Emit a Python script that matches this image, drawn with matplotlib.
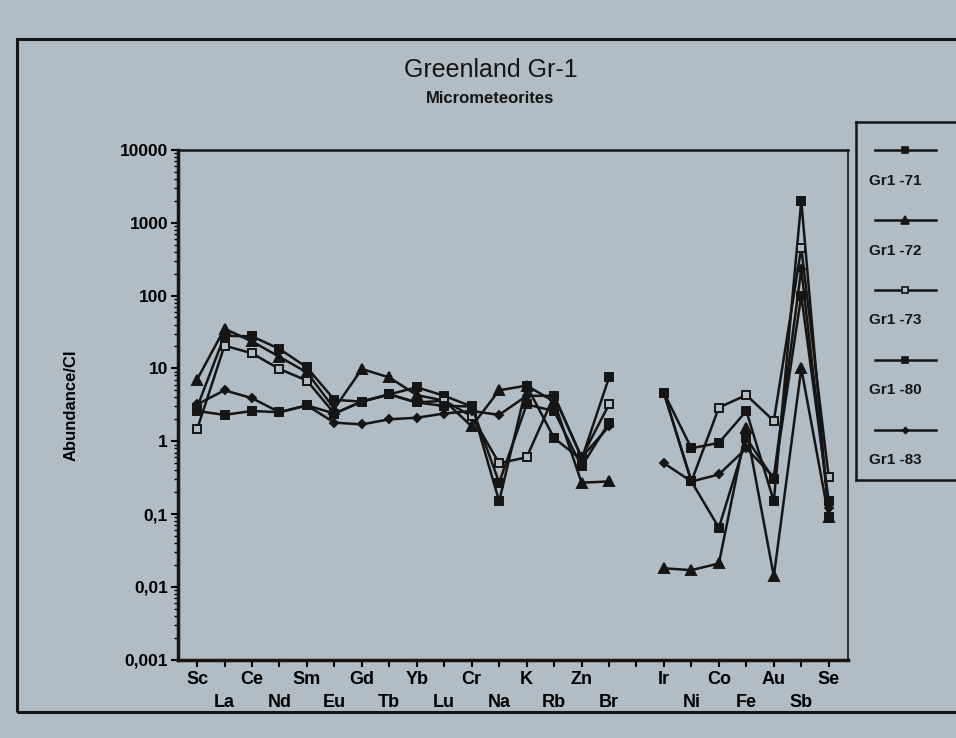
"""Greenland Gr-1 micrometeorites: CI-normalised element abundances."""

import matplotlib
matplotlib.use("Agg")
import matplotlib.pyplot as plt
import numpy as np
from matplotlib.patches import Rectangle
from matplotlib.ticker import FixedLocator, LogLocator, NullFormatter

GAP = np.nan

ELEMENTS = ["Sc", "La", "Ce", "Nd", "Sm", "Eu", "Gd", "Tb", "Yb", "Lu",
            "Cr", "Na", "K", "Rb", "Zn", "Br", "",
            "Ir", "Ni", "Co", "Fe", "Au", "Sb", "Se"]

SERIES_NAMES = ["Gr1 -71", "Gr1 -72", "Gr1 -73", "Gr1 -80", "Gr1 -83"]

GR1_71 = [2.9, 28, 27.5, 18.5, 10.3, 3.7, 3.5, 4.4, 5.5, 4.2,
          3.0, 0.15, 5.8, 1.1, 0.56, 7.5, GAP,
          4.6, 0.8, 0.95, 2.6, 0.15, 2000, 0.09]
GR1_72 = [7.0, 35, 23.5, 14.4, 8.8, 2.8, 9.8, 7.5, 4.3, 3.6,
          1.6, 5.0, 5.8, 3.5, 0.27, 0.28, GAP,
          0.018, 0.017, 0.021, 1.5, 0.014, 10, 0.09]
GR1_73 = [1.45, 20.5, 16.1, 9.8, 6.8, 2.4, 3.5, 4.4, 3.4, 3.6,
          2.2, 0.5, 0.6, 4.2, 0.6, 3.2, GAP,
          4.6, 0.28, 2.9, 4.3, 1.9, 450, 0.32]
GR1_80 = [2.6, 2.3, 2.6, 2.5, 3.1, 2.4, 3.5, 4.4, 3.4, 3.05,
          3.0, 0.27, 3.2, 2.6, 0.45, 1.8, GAP,
          4.6, 0.28, 0.065, 1.1, 0.3, 100, 0.15]
GR1_83 = [3.2, 5.0, 3.9, 2.5, 3.1, 1.8, 1.7, 2.0, 2.1, 2.4,
          2.6, 2.3, 4.2, 4.2, 0.6, 1.6, GAP,
          0.5, 0.28, 0.35, 0.8, 0.32, 230, 0.12]

Y_TICKS = [0.001, 0.01, 0.1, 1, 10, 100, 1000, 10000]
Y_TICK_LABELS = ["0,001", "0,01", "0,1", "1", "10", "100", "1000", "10000"]

PAPER = "#b1bcc5"
INK = "#151515"
FONT = "Liberation Sans"

STYLES = [
    dict(marker="s", ms=6, mfc=INK),
    dict(marker="^", ms=7, mfc=INK),
    dict(marker="s", ms=6, mfc=PAPER),
    dict(marker="s", ms=6, mfc=INK),
    dict(marker="D", ms=4, mfc=INK),
]


def main() -> None:
    """Draw the spider diagram and save it as out.png."""
    plt.rcParams["font.family"] = [FONT, "DejaVu Sans"]
    plt.rcParams["font.weight"] = "bold"

    fig = plt.figure(figsize=(9.56, 7.38), dpi=100, facecolor=PAPER)

    # outer frame of the printed figure
    fig.patches.append(Rectangle((0.018, 0.035), 1.1, 0.912, transform=fig.transFigure,
                                 fill=False, edgecolor=INK, linewidth=2.2))

    ax = fig.add_axes([0.186, 0.106, 0.701, 0.691])
    ax.set_facecolor(PAPER)
    positions = np.arange(len(ELEMENTS))
    all_series = [GR1_71, GR1_72, GR1_73, GR1_80, GR1_83]
    for values, style in zip(all_series, STYLES):
        ax.plot(positions, values, color=INK, linewidth=1.8, mec=INK, mew=1.4, **style)

    ax.set_yscale("log")
    ax.set_ylim(0.001, 10000)
    ax.set_xlim(-0.7, len(ELEMENTS) - 0.3)
    ax.yaxis.set_major_locator(FixedLocator(Y_TICKS))
    ax.set_yticklabels(Y_TICK_LABELS, fontsize=12.5, fontweight="bold")
    ax.yaxis.set_minor_locator(LogLocator(base=10, subs=np.arange(2, 10), numticks=20))
    ax.yaxis.set_minor_formatter(NullFormatter())
    ax.tick_params(axis="y", which="major", direction="out", length=5, width=1.5, pad=2)
    ax.tick_params(axis="y", which="minor", direction="out", length=3, width=1.0)

    ax.set_xticks(positions)
    labels = [name if i % 2 == 0 else "\n" + name for i, name in enumerate(ELEMENTS[:16])]
    labels += [""]
    labels += [name if i % 2 == 0 else "\n" + name for i, name in enumerate(ELEMENTS[17:])]
    ax.set_xticklabels(labels, fontsize=13, fontweight="bold", linespacing=1.5)
    ax.tick_params(axis="x", direction="out", length=5, width=1.5, pad=3)

    for side in ["left", "bottom", "top", "right"]:
        ax.spines[side].set_linewidth(1.2)
        ax.spines[side].set_color(INK)
    ax.spines["left"].set_linewidth(2.5)
    ax.spines["bottom"].set_linewidth(2.5)
    ax.spines["top"].set_linewidth(1.8)

    ax.set_ylabel("Abundance/CI", fontsize=12, fontweight="bold", labelpad=30)

    fig.text(0.513, 0.905, "Greenland Gr-1", ha="center", va="center",
             fontsize=18, fontweight="normal", color=INK)
    fig.text(0.513, 0.867, "Micrometeorites", ha="center", va="center",
             fontsize=12, fontweight="bold", color=INK)

    # legend box on the right, one marker line above each label
    leg = fig.add_axes([0.895, 0.35, 0.2, 0.485])
    leg.set_facecolor(PAPER)
    leg.set_xlim(0, 1)
    leg.set_ylim(0, 1)
    leg.set_xticks([])
    leg.set_yticks([])
    for spine in leg.spines.values():
        spine.set_linewidth(1.8)
        spine.set_color(INK)
    for i, (name, style) in enumerate(zip(SERIES_NAMES, STYLES)):
        top = 0.92 - i * 0.195
        leg.plot([0.1, 0.42], [top, top], color=INK, linewidth=1.8)
        leg.plot([0.26], [top], linestyle="none", mec=INK, mew=1.2,
                 **{**style, "ms": style["ms"] - 1})
        leg.text(0.07, top - 0.085, name, fontsize=11, fontweight="bold",
                 color=INK, va="center")

    fig.savefig("out.png", dpi=100, facecolor=PAPER)


if __name__ == "__main__":
    main()
